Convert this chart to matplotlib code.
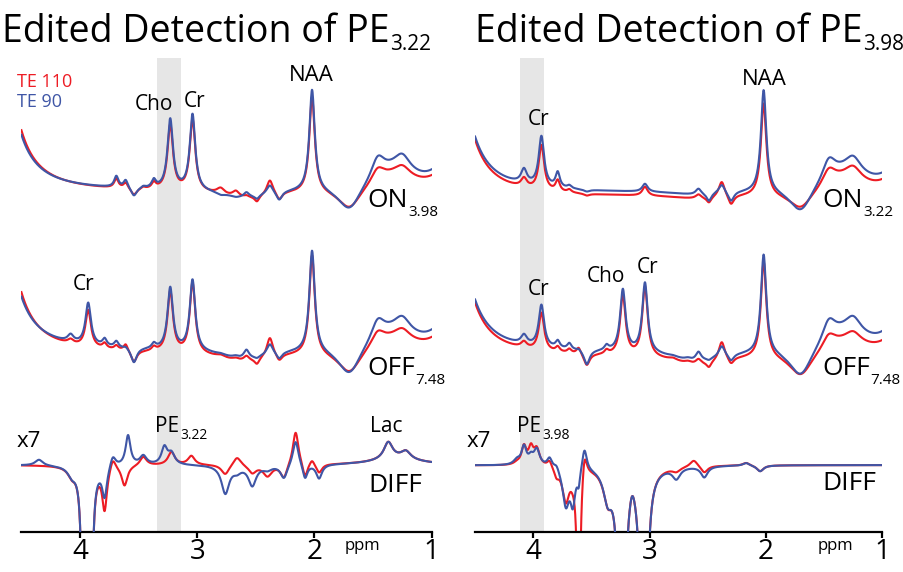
import matplotlib.pyplot as plt
import numpy as np

W, H = 904, 572
RED = '#ED1C24'
BLUE = '#3F56A6'
BAND = '#E6E6E6'

plt.rcParams['font.family'] = ['Open Sans', 'DejaVu Sans']

ppm = np.linspace(4.5, 1.0, 1400)

# peak list shared by the ON / OFF spectra: centre (ppm), half width (ppm)
met_ppm = [4.75, 4.08, 3.93, 3.79, 3.69, 3.61, 3.54, 3.46, 3.37, 3.23, 3.04, 2.80, 2.67,
           2.58, 2.49, 2.38, 2.30, 2.13, 2.02, 1.70, 1.46, 1.25, 1.32, 0.90, 2.60]
met_w = [0.12, 0.03, 0.028, 0.022, 0.022, 0.022, 0.03, 0.022, 0.022, 0.028, 0.028, 0.04, 0.035,
         0.028, 0.025, 0.032, 0.03, 0.04, 0.028, 0.12, 0.07, 0.08, 0.25, 0.12, 0.25]

# peak heights (a.u.), plus a flat base level
on322_te90 = [300, 0, 0, 0, 11, 8, -9, 2, 8, 70, 76, -2, -1, 5, -4, 9, -9, 0, 102, -26, 21, 15, 21, 21, -8]
on322_te110 = [330, 0, 0, 0, 9, 6, -7, 2, 6, 65, 72, 6, 6, 2, -6, 15, -8, 0, 96, -22, 14, 10, 16, 17, -8]
off_l_te90 = [290, 7, 42, 7, 6, 2, -15, 0, 5, 62, 71, 1, 2, 9, -2, 11, -7, 0, 102, -30, 20, 14, 20, 22, -10]
off_l_te110 = [330, 4, 37, 5, 4, 7, -12, 0, 4, 61, 71, 2, 2, 5, -6, 20, -7, 0, 100, -24, 14, 10, 15, 18, -9]
on398_te90 = [300, 14, 50, 15, 3, 0, -2, 0, 0, 0, 8, 0, 0, 6, -8, 9, -10, 0, 103, -26, 21, 15, 21, 19, -3]
on398_te110 = [305, 9, 45, 11, 3, 0, -2, 0, 0, 0, 9, 0, 0, 4, -6, 16, -10, 0, 93, -18, 16, 12, 18, 17, -3]
off_r_te90 = [285, 9, 42, 7, 6, 2, -15, 0, 5, 62, 70, 1, 2, 9, -2, 11, -7, 0, 100, -30, 21, 15, 21, 22, -10]
off_r_te110 = [290, 6, 38, 5, 4, 7, -12, 0, 4, 60, 70, 2, 2, 5, -6, 19, -7, 0, 97, -24, 14, 10, 15, 18, -9]
base_on322 = [16, 15]     # TE 90, TE 110
base_off_l = [20, 17]
base_on398 = [14, 10]
base_off_r = [18, 14]

# difference spectrum, PE 3.22 edit
dl_ppm = [4.35, 4.07, 3.97, 3.91, 3.84, 3.79, 3.72, 3.62, 3.59, 3.46, 3.28, 3.22, 3.05, 2.76,
          2.66, 2.53, 2.40, 2.26, 2.16, 2.08, 2.02, 1.96, 1.37, 1.22, 1.30]
dl_w = [0.04, 0.04, 0.014, 0.014, 0.025, 0.025, 0.03, 0.03, 0.025, 0.035, 0.03, 0.035, 0.035, 0.04,
        0.04, 0.04, 0.045, 0.035, 0.03, 0.025, 0.025, 0.03, 0.045, 0.05, 0.25]
diff322_te90 = [6, -8, -280, -280, 0, -30, 12, 0, 30, 9, 17, 11, 0, -28, -5, -20, -4, -14, 26, -15, 0, -14, 17, 8, 6]
diff322_te110 = [0, -8, -280, -280, 0, -42, 12, -20, 0, 9, 0, 13, 9, -10, 9, -8, -11, -14, 35, -15, 6, -9, 17, 8, 6]

# difference spectrum, PE 3.98 edit
dr_ppm = [4.14, 4.08, 4.02, 3.97, 3.86, 3.80, 3.72, 3.66, 3.61, 3.56, 3.47, 3.36, 3.24, 3.15,
          3.05, 2.77, 2.62, 2.53, 2.17, 2.05]
dr_w = [0.035, 0.025, 0.025, 0.03, 0.025, 0.025, 0.035, 0.025, 0.015, 0.025, 0.025, 0.045, 0.02, 0.03,
        0.02, 0.04, 0.04, 0.035, 0.035, 0.035]
diff398_te90 = [5, 18, 7, 16, 9, 5, -38, -33, -15, 23, 0, -28, -500, 13, -500, -11, 0, -11, 3, -6]
diff398_te110 = [2, 18, 16, 16, 7, -8, -33, -5, -200, 26, 0, -28, -500, 13, -500, -4, 7, -7, 3, -6]
base_diff = -2

# vertical placement of the three stacked rows (axis units = pixels above the ppm axis)
ROW_ON, ROW_OFF, ROW_DIFF = 325, 161, 69


def spectrum(centres, widths, heights, base):
    y = np.full_like(ppm, float(base))
    for c, w, h in zip(centres, widths, heights):
        y += h * w ** 2 / ((ppm - c) ** 2 + w ** 2)
    return y


fig = plt.figure(figsize=(W / 100, H / 100), dpi=100)
axL = fig.add_axes([21.4 / W, 40 / H, 410.2 / W, 474 / H])
axR = fig.add_axes([475.1 / W, 40 / H, 407.2 / W, 474 / H])

panels = [
    (axL, (3.14, 3.34), [
        (ROW_ON, met_ppm, met_w, on322_te110, on322_te90, base_on322),
        (ROW_OFF, met_ppm, met_w, off_l_te110, off_l_te90, base_off_l),
        (ROW_DIFF, dl_ppm, dl_w, diff322_te110, diff322_te90, [base_diff, base_diff]),
    ]),
    (axR, (3.91, 4.11), [
        (ROW_ON, met_ppm, met_w, on398_te110, on398_te90, base_on398),
        (ROW_OFF, met_ppm, met_w, off_r_te110, off_r_te90, base_off_r),
        (ROW_DIFF, dr_ppm, dr_w, diff398_te110, diff398_te90, [base_diff, base_diff]),
    ]),
]

for ax, band, rows in panels:
    ax.axvspan(band[0], band[1], color=BAND, lw=0, zorder=0)
    for off, cen, wid, h110, h90, bases in rows:
        ax.plot(ppm, off + spectrum(cen, wid, h110, bases[1]), color=RED, lw=1.5, zorder=2)
        ax.plot(ppm, off + spectrum(cen, wid, h90, bases[0]), color=BLUE, lw=1.5, zorder=3)
    ax.set_xlim(4.5, 1.0)
    ax.set_ylim(0, 474)
    ax.set_xticks([4, 3, 2, 1])
    ax.set_yticks([])
    for s in ['left', 'right', 'top']:
        ax.spines[s].set_visible(False)
    ax.spines['bottom'].set_linewidth(1.6)
    ax.tick_params(axis='x', length=4.5, width=1.6, pad=0, labelsize=20)
    ax.patch.set_alpha(0)

fig.canvas.draw()
renderer = fig.canvas.get_renderer()


def txt(x, y, s, size, color='black'):
    return fig.text(x / W, 1 - y / H, s, fontsize=size, color=color, ha='left', va='baseline')


def txt_sub(x, y, s, sub, size, sub_size, drop):
    t = txt(x, y, s, size)
    bb = t.get_window_extent(renderer)
    txt(bb.x1 + 1, y + drop, sub, sub_size)


# titles
txt_sub(2, 42, 'Edited Detection of PE', '3.22', 27, 15, 8)
txt_sub(475, 42, 'Edited Detection of PE', '3.98', 27, 15, 8)

# legend
txt(17, 87, 'TE 110', 13, RED)
txt(17, 107, 'TE 90', 13, BLUE)

# left panel labels
txt(135, 110, 'Cho', 15)
txt(184, 107, 'Cr', 15)
txt(289, 81, 'NAA', 16)
txt_sub(367, 207, 'ON', '3.98', 19, 11, 9)
txt(73, 290, 'Cr', 15)
txt_sub(367, 375, 'OFF', '7.48', 19, 11, 9)
txt(17, 447, 'x7', 16)
txt_sub(155, 432, 'PE', '3.22', 15, 10, 7)
txt(370, 432, 'Lac', 15)
txt(368, 492, 'DIFF', 19)
txt(345, 550, 'ppm', 12)

# right panel labels
txt(528, 125, 'Cr', 15)
txt(742, 85, 'NAA', 16)
txt_sub(822, 207, 'ON', '3.22', 19, 11, 9)
txt(528, 295, 'Cr', 15)
txt(587, 282, 'Cho', 15)
txt(637, 273, 'Cr', 15)
txt_sub(822, 375, 'OFF', '7.48', 19, 11, 9)
txt(467, 447, 'x7', 16)
txt_sub(517, 432, 'PE', '3.98', 15, 10, 7)
txt(822, 490, 'DIFF', 19)
txt(818, 550, 'ppm', 12)

fig.savefig('out.png', dpi=100)
